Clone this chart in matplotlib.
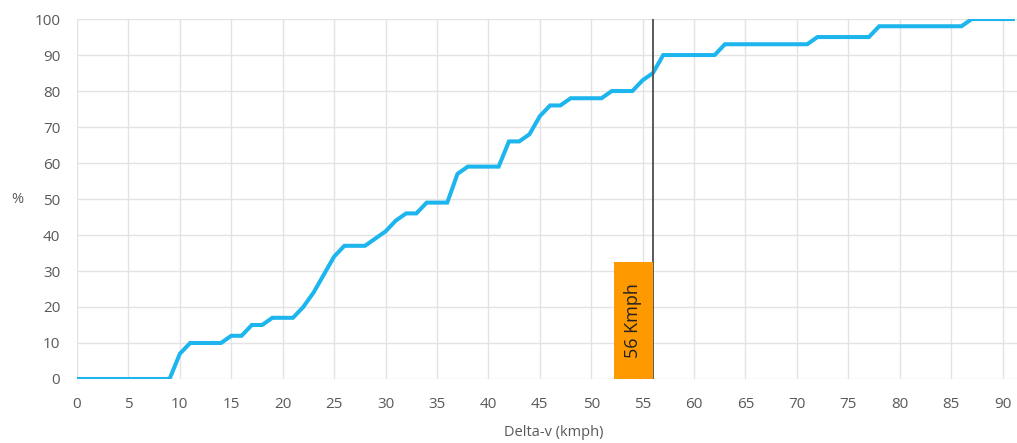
import matplotlib
matplotlib.use("Agg")
import matplotlib.pyplot as plt
import numpy as np

plt.rcParams['font.family'] = ['Open Sans', 'DejaVu Sans']

delta_v = list(range(0, 92))
percent = ([0]*10 + [7, 10, 10, 10, 10, 12, 12, 15, 15, 17, 17, 17, 20, 24, 29, 34,
           37, 37, 37, 39, 41, 44, 46, 46, 49, 49, 49, 57, 59, 59, 59, 59, 66, 66, 68,
           73, 76, 76, 78, 78, 78, 78, 80, 80, 80, 83, 85, 90, 90, 90, 90, 90, 90]
           + [93]*9 + [95]*6 + [98]*9 + [100]*5)
threshold = 56
threshold_label = "56 Kmph"
box_left = 52.2
box_top = 32.5

fig = plt.figure(figsize=(10.17, 4.43), dpi=100)
ax = fig.add_axes([0.0757, 0.1445, 0.9243, 0.8125])

ax.plot(delta_v, percent, color='#1CB5EE', lw=2.9, solid_joinstyle='miter', zorder=3)
ax.axvline(threshold, ymin=0, ymax=1, color='#5a5a5a', lw=1.4, zorder=4)
ax.bar(box_left, box_top, width=threshold - box_left, align='edge', color='#FF9900', zorder=5)
ax.text((box_left + threshold) / 2, box_top / 2, threshold_label, rotation=90,
        ha='center', va='center', fontsize=13, color='#222222', zorder=6)

ax.set_xlim(0, 91.4)
ax.set_ylim(0, 100)
ax.set_xticks(range(0, 91, 5))
ax.set_yticks(range(0, 101, 10))
ax.grid(True, color='#e3e3e3', lw=1)
ax.set_axisbelow(True)
for s in ax.spines.values():
    s.set_visible(False)
ax.tick_params(length=0, labelsize=11, colors='#595959')
ax.tick_params(axis='x', pad=13)
ax.tick_params(axis='y', pad=12)
ax.set_xlabel('Delta-v (kmph)', fontsize=10.5, color='#595959', va='center')
ax.xaxis.set_label_coords(0.507, -0.15)
ax.set_ylabel('%', fontsize=10.5, color='#595959', rotation=0, va='center', ha='center')
ax.yaxis.set_label_coords(-0.063, 0.5)

fig.savefig('out.png', dpi=100)
